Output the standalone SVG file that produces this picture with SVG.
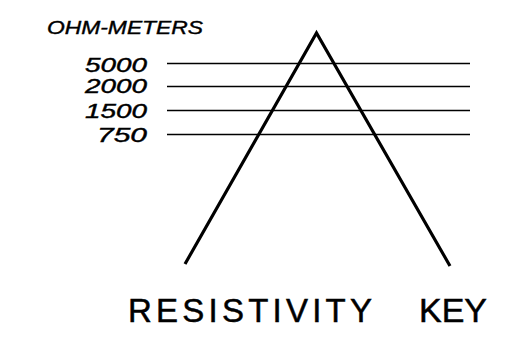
<svg xmlns="http://www.w3.org/2000/svg" width="506" height="337" viewBox="0 0 506 337">
<style>
.lab{font-family:"Liberation Sans",Arial,sans-serif;font-style:italic;fill:#000;stroke:#000;stroke-width:0.4}
.title{font-family:"Liberation Sans",Arial,sans-serif;fill:#000;font-size:33px;stroke:#000;stroke-width:0.5}
.lvl{stroke:#000;stroke-width:1.6;fill:none}
.leg{stroke:#000;stroke-width:3.2;fill:none;stroke-linecap:butt;stroke-linejoin:miter}
</style>
<rect width="506" height="337" fill="#fff"/>
<g id="units">
<text class="lab" x="47" y="34" font-size="18.5" textLength="156" lengthAdjust="spacingAndGlyphs">OHM-METERS</text>
</g>
<g id="scale">
<text class="lab" x="85" y="71.5" font-size="20" textLength="62" lengthAdjust="spacingAndGlyphs">5000</text>
<text class="lab" x="85" y="92.5" font-size="20" textLength="62" lengthAdjust="spacingAndGlyphs">2000</text>
<text class="lab" x="85" y="117.5" font-size="20" textLength="62" lengthAdjust="spacingAndGlyphs">1500</text>
<text class="lab" x="97" y="141.5" font-size="20" textLength="50" lengthAdjust="spacingAndGlyphs">750</text>
</g>
<g id="levels">
<line class="lvl" x1="167" y1="63.5" x2="470" y2="63.5"/>
<line class="lvl" x1="167" y1="86.5" x2="470" y2="86.5"/>
<line class="lvl" x1="167" y1="110.5" x2="470" y2="110.5"/>
<line class="lvl" x1="167" y1="134.5" x2="470" y2="134.5"/>
</g>
<g id="triangle">
<polyline class="leg" points="185,264 316.5,33 450,266"/>
</g>
<g id="caption">
<text class="title" x="128" y="322" textLength="244" lengthAdjust="spacing">RESISTIVITY</text>
<text class="title" x="419" y="322" textLength="68" lengthAdjust="spacingAndGlyphs">KEY</text>
</g>
</svg>
